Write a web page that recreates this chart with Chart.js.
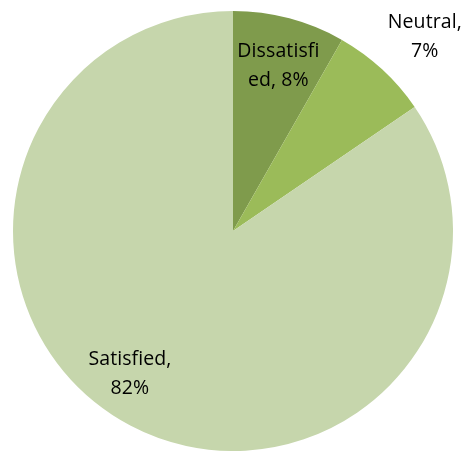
<!DOCTYPE html>
<html><head><meta charset="utf-8">
<script src="https://cdn.jsdelivr.net/npm/chart.js@4"></script>
<style>html,body{margin:0;padding:0;background:#fff}#c{display:block}</style>
</head><body>
<canvas id="c" width="464" height="451"></canvas>
<script>
const categories = ["Dissatisfied", "Neutral", "Satisfied"];
const values = [8, 7, 82];
const labelLines = [["Dissatisfi", "ed, 8%"], ["Neutral,", "7%"], ["Satisfied,", "82%"]];
const colors = ["#7f9b4c", "#9bbb59", "#c6d6ac"];

const labelPlugin = {
  id: 'sliceLabels',
  afterDatasetsDraw(chart) {
    const ctx = chart.ctx;
    const meta = chart.getDatasetMeta(0);
    const place = [{f: 0.78, d: 0.5}, {f: 1.24, d: 2}, {f: 0.80, d: 8}];
    ctx.save();
    ctx.font = '19.5px "Open Sans", sans-serif';
    if ('letterSpacing' in ctx) ctx.letterSpacing = '0.1px';
    ctx.fillStyle = '#000';
    ctx.textAlign = 'center';
    ctx.textBaseline = 'middle';
    meta.data.forEach((arc, i) => {
      const mid = (arc.startAngle + arc.endAngle) / 2 + place[i].d * Math.PI / 180;
      const r = arc.outerRadius * place[i].f;
      const x = arc.x + r * Math.cos(mid);
      const y = arc.y + r * Math.sin(mid);
      const lines = labelLines[i];
      const lh = 29;
      lines.forEach((t, k) => ctx.fillText(t, x, y + (k - (lines.length - 1) / 2) * lh));
    });
    ctx.restore();
  }
};

new Chart(document.getElementById('c'), {
  type: 'pie',
  data: { labels: categories, datasets: [{ data: values, backgroundColor: colors, borderWidth: 0 }] },
  options: {
    responsive: false, animation: false,
    layout: { padding: { left: 13, right: 11, top: 11, bottom: 0 } },
    plugins: { legend: { display: false }, tooltip: { enabled: false } }
  },
  plugins: [labelPlugin]
});
</script>
</body></html>
